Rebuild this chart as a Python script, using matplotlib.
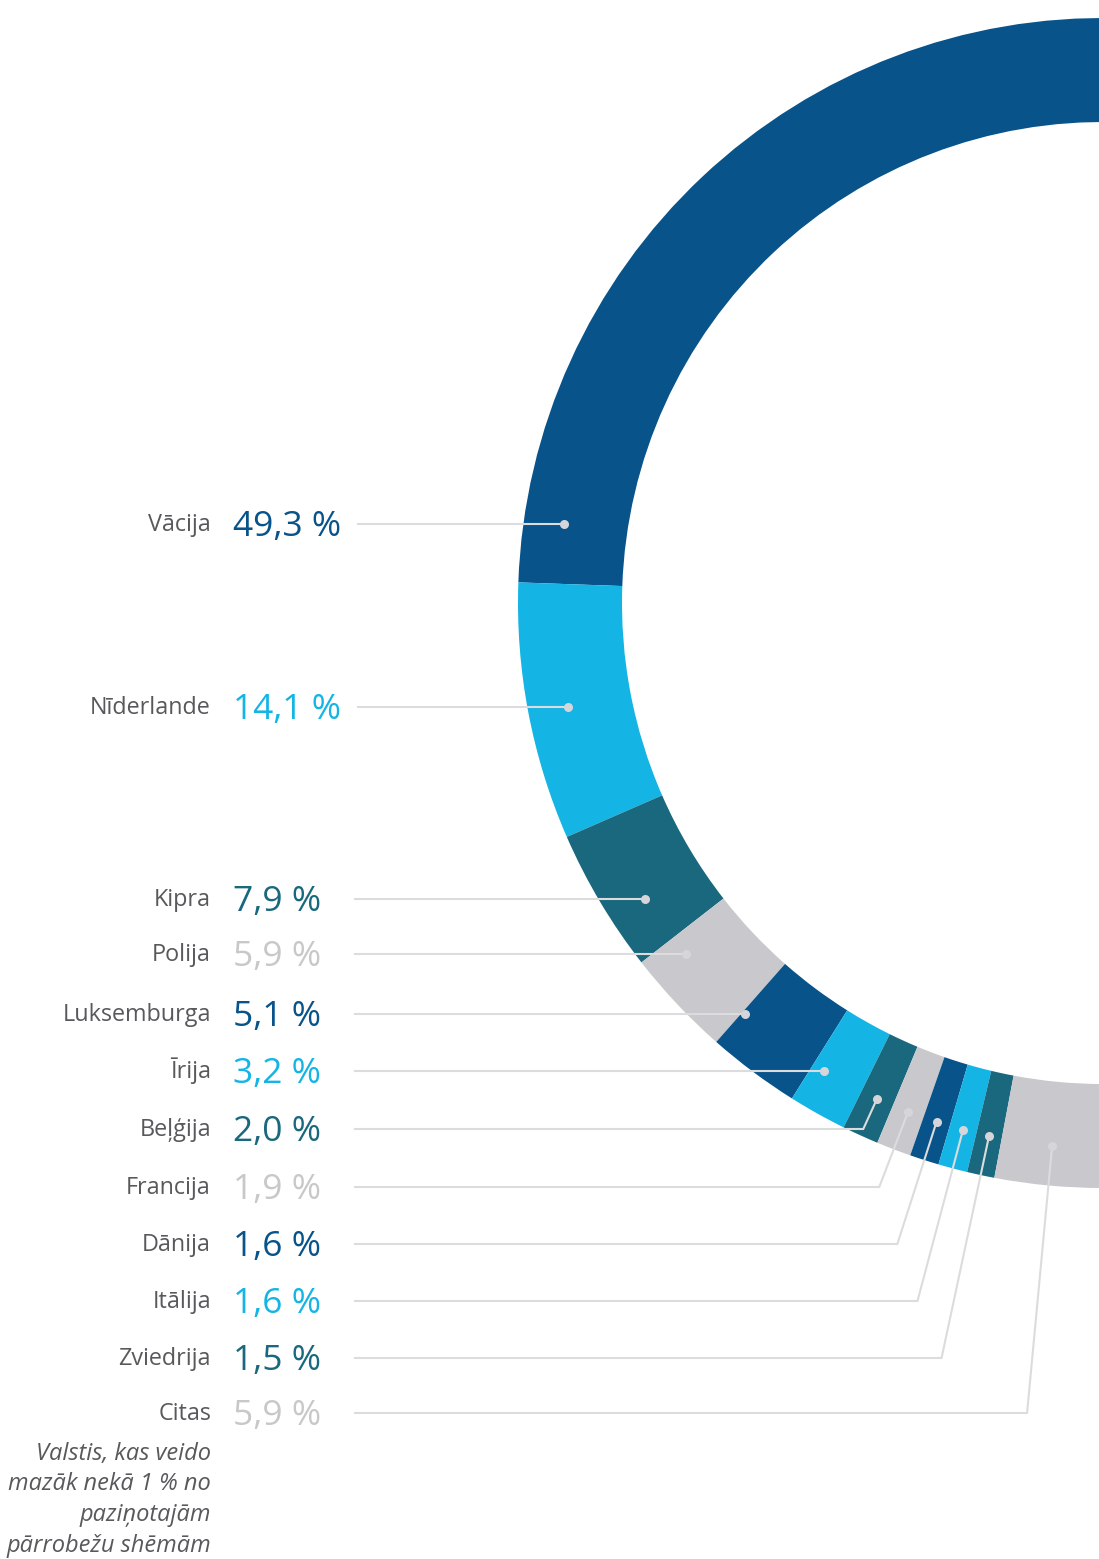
import numpy as np
import matplotlib.pyplot as plt

# dati
countries = ['Vācija', 'Nīderlande', 'Kipra', 'Polija', 'Luksemburga', 'Īrija',
             'Beļģija', 'Francija', 'Dānija', 'Itālija', 'Zviedrija', 'Citas']
shares = [49.3, 14.1, 7.9, 5.9, 5.1, 3.2, 2.0, 1.9, 1.6, 1.6, 1.5, 5.9]
note_lines = ['Valstis, kas veido', 'mazāk nekā 1 % no', 'paziņotajām', 'pārrobežu shēmām']

DARK = '#07538a'
LIGHT = '#14b5e5'
TEAL = '#19687d'
GREY = '#c9c8cd'
colors = [DARK, LIGHT, TEAL, GREY] * 3
txt_colors = [DARK, LIGHT, TEAL, '#c8c8c8'] * 3
NAME_C = '#58595b'
LINE_C = '#dcdcde'

# izkārtojums (pikseļos)
W, H = 1099, 1559
label_y = [524, 707, 899, 954, 1014, 1071, 1129, 1187, 1244, 1301, 1358, 1413]
cx, cy = 1103, 603
R_out, ring = 585, 104
r_dot = 545
start_deg = 88.5      # ekrāna leņķis, kur sākas riņķis
span_deg = 181.5      # cik grādus aizņem redzamā daļa

plt.rcParams['font.family'] = ['Open Sans', 'DejaVu Sans']

fig = plt.figure(figsize=(W / 100, H / 100), dpi=100)
ax = fig.add_axes([0, 0, 1, 1])

# redzamā daļa + neredzama atlikusī daļa
total = sum(shares)
rest = total * (360 / span_deg - 1)
# y ass apgriezta, tāpēc leņķi spoguļoti
wedges, _ = ax.pie(shares + [rest], colors=colors + ['none'],
                   startangle=360 - start_deg, counterclock=False, center=(cx, cy),
                   radius=R_out, wedgeprops=dict(width=ring, linewidth=0))
ax.set_xlim(0, W)
ax.set_ylim(H, 0)
ax.set_aspect('equal')
ax.axis('off')

for i, (name, val, y) in enumerate(zip(countries, shares, label_y)):
    x0 = 358 if i < 2 else 355
    if i < 6:
        xd = cx - np.sqrt(r_dot ** 2 - (y - cy) ** 2)
        yd = y
        xs, ys = [x0, xd], [y, y]
    else:
        w = wedges[i]
        th = np.deg2rad((w.theta1 + w.theta2) / 2)
        xd = cx + r_dot * np.cos(th)
        yd = cy + r_dot * np.sin(th)
        t = (y - cy) / np.sin(th)
        xe = cx + t * np.cos(th)
        xs, ys = [x0, xe, xd], [y, y, yd]
    ax.plot(xs, ys, color=LINE_C, lw=1.5, solid_joinstyle='miter', zorder=3)
    ax.plot([xd], [yd], 'o', color='#d6d6da', ms=6.5, mec='none', zorder=4)

    ax.text(211, y + 7, name, ha='right', va='baseline', fontsize=16.8, color=NAME_C)
    pct = f'{val:.1f}'.replace('.', ',') + ' %'
    ax.text(233, y + 12, pct, ha='left', va='baseline', fontsize=25.5,
            color=txt_colors[i])

for k, line in enumerate(note_lines):
    ax.text(211, 1460 + k * 30.5, line, ha='right', va='baseline',
            fontsize=17, color=NAME_C, style='italic')

fig.savefig('out.png', dpi=100)
